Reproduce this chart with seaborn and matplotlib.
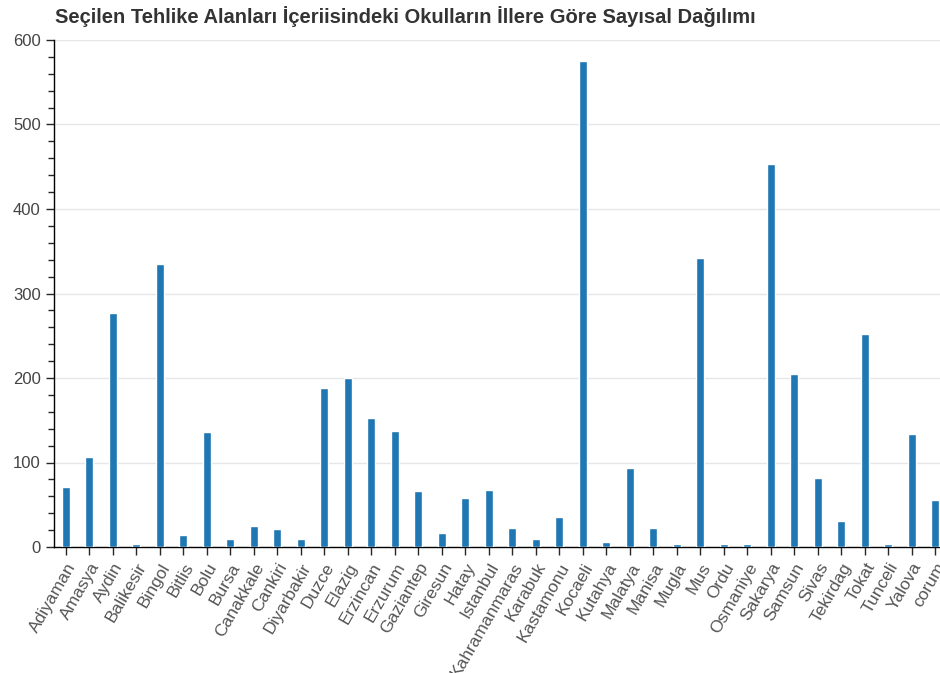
import pandas as pd
import seaborn as sns
import matplotlib.pyplot as plt
from matplotlib.ticker import MultipleLocator

# il adlari ve okul sayilari (gorselden okunan)
provinces = ["Adiyaman", "Amasya", "Aydin", "Balikesir", "Bingol", "Bitlis", "Bolu",
             "Bursa", "Canakkale", "Cankiri", "Diyarbakir", "Duzce", "Elazig", "Erzincan",
             "Erzurum", "Gaziantep", "Giresun", "Hatay", "Istanbul", "Kahramanmaras",
             "Karabuk", "Kastamonu", "Kocaeli", "Kutahya", "Malatya", "Manisa", "Mugla",
             "Mus", "Ordu", "Osmaniye", "Sakarya", "Samsun", "Sivas", "Tekirdag", "Tokat",
             "Tunceli", "Yalova", "corum"]
counts = [71, 106, 277, 4, 335, 14, 136, 9, 25, 21, 9, 188, 200, 153, 137, 66, 17, 58,
          67, 22, 9, 35, 575, 6, 93, 22, 4, 342, 4, 4, 453, 205, 82, 31, 252, 4, 134, 56]

df = pd.DataFrame({"il": provinces, "sayi": counts})

sns.set_style("white")
plt.rcParams['font.family'] = ['Liberation Sans', 'DejaVu Sans']

fig = plt.figure(figsize=(9.4, 6.73), dpi=100)
ax = fig.add_axes([54 / 940, 126 / 673, 893 / 940, 507 / 673])

sns.barplot(data=df, x="il", y="sayi", color="#1f77b4", width=0.32,
            saturation=1, ax=ax, zorder=3)

ax.set_xlim(-0.5, 37.5)
ax.set_ylim(0, 600)
ax.yaxis.set_major_locator(MultipleLocator(100))
ax.yaxis.set_minor_locator(MultipleLocator(20))
ax.grid(axis="y", color="#e6e6e6", linewidth=1, zorder=0)
ax.set_axisbelow(True)

for s in ["top", "right"]:
    ax.spines[s].set_visible(False)
for s in ["left", "bottom"]:
    ax.spines[s].set_color("black")
    ax.spines[s].set_linewidth(1)

ax.tick_params(axis="y", which="major", length=6, width=1, direction="out",
               labelsize=12, labelcolor="#444444", left=True)
ax.tick_params(axis="y", which="minor", length=4, width=1, direction="out", left=True)
ax.tick_params(axis="x", length=6, width=1, direction="out", bottom=True,
               labelsize=12.5, labelcolor="#555555")
plt.setp(ax.get_xticklabels(), rotation=60, ha="right", rotation_mode="anchor")

ax.set_xlabel("")
ax.set_ylabel("")

fig.text(55 / 940, 1 - 17 / 673, "Seçilen Tehlike Alanları İçeriisindeki Okulların İllere Göre Sayısal Dağılımı",
         fontsize=14.5, fontweight="bold", color="#333333", va="center", ha="left")

fig.savefig("out.png", dpi=100)
